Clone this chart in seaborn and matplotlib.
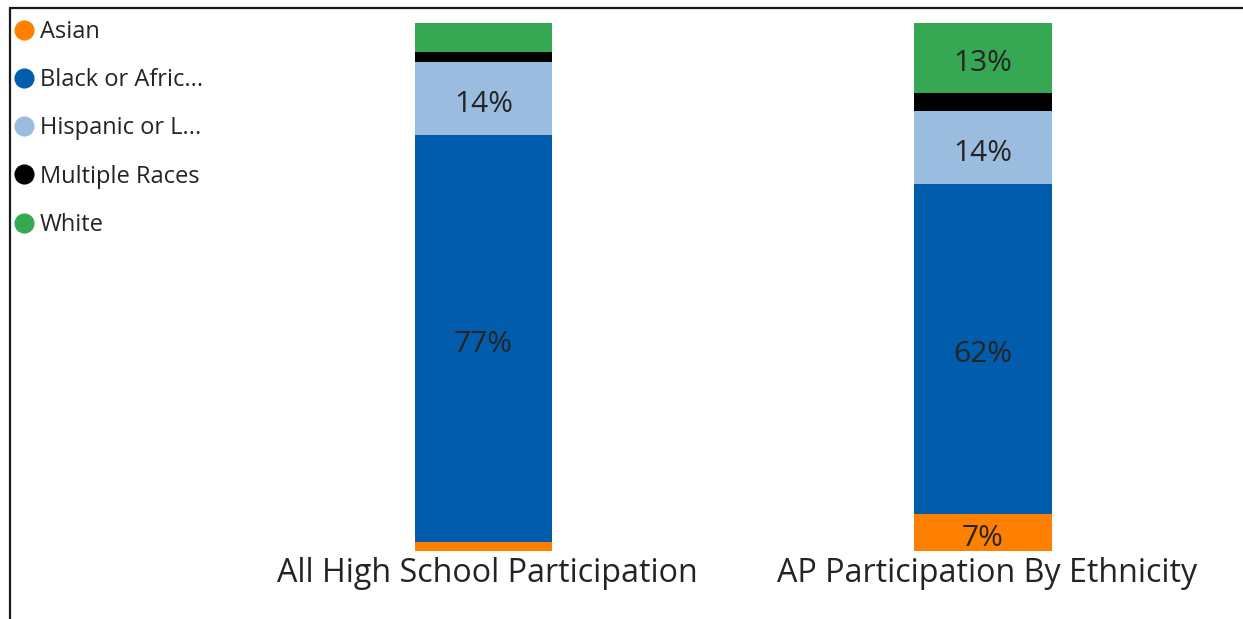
import matplotlib
matplotlib.use("Agg")
import matplotlib.pyplot as plt
import matplotlib.transforms as mtransforms
from matplotlib.lines import Line2D
import seaborn as sns
import pandas as pd
import numpy as np

# ---- data ----
groups = ["All High School Participation", "AP Participation By Ethnicity"]
ethnicities = ["Asian", "Black or Afric...", "Hispanic or L...", "Multiple Races", "White"]
asian = [1.7, 7.0]
black = [77.0, 62.5]
hispanic = [13.8, 13.7]
multiple = [1.9, 3.5]
white = [5.6, 13.3]
colors = ["#FF7F00", "#015CAB", "#9ABDDF", "#000000", "#36A753"]

series = [asian, black, hispanic, multiple, white]
rows = []
for gi, g in enumerate(groups):
    cum = 0.0
    for ei, e in enumerate(ethnicities):
        v = series[ei][gi]
        rows.append({"group": g, "eth": e, "value": v, "bottom": cum, "top": cum + v})
        cum += v
df = pd.DataFrame(rows)

sns.set_theme(style="white")
plt.rcParams["font.family"] = ["Open Sans", "DejaVu Sans"]

W, H = 1243, 619
fig = plt.figure(figsize=(W / 100, H / 100), dpi=100)
# axes: y=0 at px 551 from top, y=100 at px 22.5
ax_bottom = (H - 551) / H
ax_height = (551 - 22.5) / H
ax = fig.add_axes([0, ax_bottom, 1, ax_height])

# draw stacked bars: top layer first, overlay lower cumulative
for ei in range(len(ethnicities) - 1, -1, -1):
    sub = df[df["eth"] == ethnicities[ei]]
    sns.barplot(data=sub, x="group", y="top", order=groups, color=colors[ei],
                saturation=1, width=0.276, linewidth=0, ax=ax, errorbar=None)

# value labels
for _, r in df.iterrows():
    if r["value"] >= 7:
        xi = groups.index(r["group"])
        ax.annotate(f"{round(r['value']):.0f}%", xy=(xi, (r["bottom"] + r["top"]) / 2),
                    xytext=(0, -4), textcoords="offset points",
                    ha="center", va="center", fontsize=21.5, color="#252423")

px_per_unit = 499.5
ax.set_xlim(-483.5 / px_per_unit, (W - 483.5) / px_per_unit)
ax.set_ylim(0, 100)
for s in ax.spines.values():
    s.set_visible(False)
ax.set_yticks([])
ax.set_xlabel("")
ax.set_ylabel("")
ax.tick_params(axis="x", length=0, pad=4.5, labelsize=23.2, labelcolor="#252423")
shift = mtransforms.ScaledTranslation(4 / 100, 0, fig.dpi_scale_trans)
for lbl in ax.get_xticklabels():
    lbl.set_transform(lbl.get_transform() + shift)

# legend
handles = [Line2D([0], [0], marker="o", linestyle="", markersize=13.5,
                  markerfacecolor=c, markeredgecolor=c) for c in colors]
fig.legend(handles, ethnicities, loc="upper left",
           bbox_to_anchor=(14.6 / W, 1 - 20 / H), frameon=False,
           fontsize=17, labelspacing=1.025, handlelength=0.8, handletextpad=0.28,
           borderpad=0, borderaxespad=0, labelcolor="#252423")

# frame lines (top and left)
fig.add_artist(Line2D([10 / W, 1], [1 - 8 / H, 1 - 8 / H], color="#1a1a1a", linewidth=1.6,
                      transform=fig.transFigure))
fig.add_artist(Line2D([10 / W, 10 / W], [0, 1 - 8 / H], color="#1a1a1a", linewidth=1.6,
                      transform=fig.transFigure))

fig.savefig("out.png", dpi=100)
